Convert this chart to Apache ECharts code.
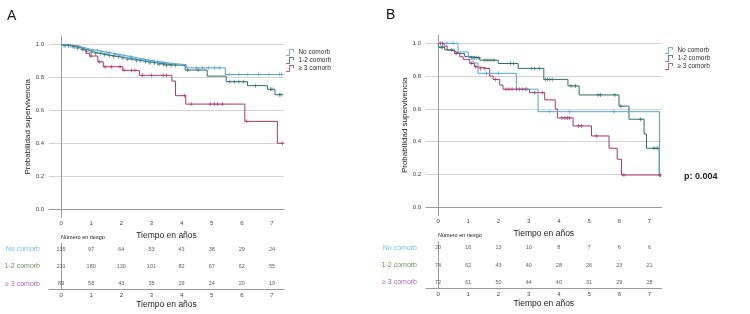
<!DOCTYPE html>
<html>
<head>
<meta charset="utf-8">
<script src="https://cdn.jsdelivr.net/npm/echarts@6/dist/echarts.min.js"></script>
<style>
  html, body { margin: 0; padding: 0; background: #fff; }
  #chart { width: 750px; height: 314px; }
</style>
</head>
<body>
<div id="chart"></div>
<script>
// groups
var groupNames = ["No comorb", "1-2 comorb", "≥ 3 comorb"];
var groupColors = ["#4ea6d2", "#2f6e68", "#a8376e"];
var rowLabelColors = ["#55b3d4", "#4d7a45", "#9b3f96"];
var years = [0, 1, 2, 3, 4, 5, 6, 7];

// Panel A: KM steps [time, survival]
var stepsA_no = [[0, 1], [0.12, 0.993], [0.4, 0.985], [0.62, 0.978], [0.85, 0.97], [1.02, 0.963], [1.25, 0.956], [1.45, 0.948], [1.7, 0.94], [1.95, 0.932], [2.15, 0.924], [2.4, 0.916], [2.6, 0.908], [2.85, 0.9], [3.1, 0.892], [3.4, 0.885], [3.65, 0.878], [4.16, 0.858], [5.45, 0.818]];
var stepsA_12 = [[0, 1], [0.05, 0.993], [0.3, 0.986], [0.5, 0.978], [0.7, 0.97], [0.85, 0.96], [1.0, 0.952], [1.15, 0.945], [1.35, 0.938], [1.55, 0.932], [1.75, 0.926], [1.95, 0.918], [2.2, 0.91], [2.45, 0.902], [2.7, 0.895], [2.95, 0.888], [3.2, 0.88], [3.5, 0.873], [4.12, 0.845], [4.85, 0.808], [5.48, 0.774], [6.19, 0.75], [6.85, 0.728], [7.1, 0.695]];
var stepsA_3 = [[0, 1], [0.15, 0.99], [0.6, 0.98], [0.72, 0.967], [0.83, 0.946], [0.95, 0.93], [1.22, 0.895], [1.4, 0.865], [2.05, 0.843], [2.6, 0.813], [3.68, 0.778], [3.8, 0.689], [4.14, 0.638], [6.1, 0.533], [7.18, 0.40]];
var censA_no = [0.15, 0.3, 0.45, 0.6, 0.75, 0.9, 1.05, 1.2, 1.35, 1.5, 1.6, 1.8, 1.95, 2.1, 2.3, 2.45, 2.6, 2.75, 2.9, 3.05, 3.2, 3.35, 3.45, 3.55, 3.7, 4.5, 4.7, 4.9, 5.1, 5.25, 5.6, 5.9, 6.2, 6.55, 6.9, 7.25, 7.32];
var censA_12 = [0.1, 0.25, 0.4, 0.55, 0.7, 0.85, 1.0, 1.15, 1.3, 1.45, 1.6, 1.75, 1.9, 2.05, 2.2, 2.35, 2.5, 2.65, 2.8, 2.95, 3.1, 3.25, 3.4, 3.5, 3.65, 3.8, 4.2, 4.55, 5.6, 5.75, 5.9, 6.05, 6.45, 6.95, 7.0, 7.25, 7.3];
var censA_3 = [0.99, 1.28, 1.46, 1.68, 1.96, 2.09, 2.34, 2.45, 2.7, 3.0, 3.39, 3.5, 4.1, 4.32, 4.95, 5.09, 5.2, 5.35, 6.16, 7.35];
var endA = 7.37;

// Panel B
var stepsB_no = [[0, 1], [0.66, 0.947], [1.0, 0.915], [1.16, 0.88], [1.32, 0.817], [2.59, 0.72], [3.31, 0.583], [7.33, 0.19]];
var stepsB_12 = [[0, 1], [0.03, 0.976], [0.22, 0.96], [0.55, 0.937], [0.88, 0.92], [1.05, 0.912], [1.38, 0.897], [1.99, 0.877], [2.65, 0.847], [3.5, 0.78], [4.3, 0.74], [4.67, 0.685], [5.99, 0.617], [6.32, 0.537], [6.82, 0.447], [6.9, 0.36], [7.32, 0.19]];
var stepsB_3 = [[0, 1], [0.2, 0.983], [0.3, 0.959], [0.45, 0.95], [0.55, 0.939], [0.72, 0.918], [0.83, 0.902], [1.05, 0.878], [1.21, 0.857], [1.32, 0.845], [1.71, 0.8], [1.82, 0.78], [2.04, 0.745], [2.15, 0.72], [3.03, 0.699], [3.53, 0.655], [3.88, 0.6], [3.95, 0.545], [4.47, 0.496], [5.08, 0.435], [5.66, 0.36], [5.93, 0.293], [6.07, 0.197]];
var censB_no = [0.3, 0.5, 1.6, 2.0, 2.95, 3.68, 4.34, 5.82];
var censB_12 = [0.1, 0.15, 0.45, 1.1, 1.2, 1.28, 1.35, 1.55, 1.65, 1.75, 1.85, 2.4, 2.5, 3.1, 3.2, 3.35, 3.55, 3.62, 3.7, 3.78, 4.4, 4.55, 5.3, 5.38, 5.85, 6.05, 6.7, 7.15, 7.25];
var censB_3 = [0.08, 0.15, 0.6, 1.1, 1.25, 1.4, 1.55, 1.9, 2.25, 2.35, 2.45, 2.6, 2.7, 2.8, 2.9, 3.2, 3.45, 4.1, 4.2, 4.28, 4.35, 4.65, 4.75, 5.25, 6.15, 7.35];
var endB = 7.37;

// numbers at risk
var riskA_no = [135, 97, 64, 53, 43, 38, 29, 24];
var riskA_12 = [231, 180, 130, 101, 82, 67, 62, 55];
var riskA_3 = [89, 58, 43, 35, 29, 24, 20, 19];
var riskB_no = [20, 16, 13, 10, 8, 7, 6, 6];
var riskB_12 = [74, 62, 43, 40, 28, 26, 23, 21];
var riskB_3 = [72, 61, 50, 44, 40, 31, 29, 28];

var FONT = "Liberation Sans, Arial, sans-serif";
var censorSymbol = "path://M2,0h1v5h-1z M0,2h5v1h-5z";
var legendIcon = "path://M0,9h4v-8h6v4h-1v-3h-4v8h-5z";

function sAt(steps, t) {
  var s = steps[0][1];
  for (var i = 0; i < steps.length; i++) {
    if (steps[i][0] <= t) s = steps[i][1];
  }
  return s;
}

function xAxisBase(gridIndex, labelMargin, nameGap) {
  return {
    gridIndex: gridIndex,
    type: "value",
    min: -0.4,
    max: 7.4,
    interval: 0.2,
    name: "Tiempo en años",
    nameLocation: "middle",
    nameGap: nameGap,
    nameTextStyle: { fontSize: 8.5, color: "#222", fontFamily: FONT },
    axisLine: { lineStyle: { color: "#9a9a9a", width: 1 } },
    axisTick: { show: false },
    splitLine: { show: false },
    axisLabel: {
      margin: labelMargin,
      fontSize: 6,
      color: "#444",
      fontFamily: FONT,
      formatter: function (v) {
        var r = Math.round(v);
        return Math.abs(v - r) < 1e-6 && r >= 0 ? String(r) : "";
      }
    }
  };
}

function yAxisCurve(gridIndex) {
  return {
    gridIndex: gridIndex,
    type: "value",
    min: -0.05,
    max: 1.05,
    interval: 0.05,
    name: "Probabilidad supervivencia",
    nameLocation: "middle",
    nameGap: 16,
    nameTextStyle: { fontSize: 8, color: "#222", fontFamily: FONT },
    axisLine: { show: true, lineStyle: { color: "#9a9a9a", width: 1 } },
    axisTick: { show: false },
    splitLine: {
      show: true,
      showMinLine: true,
      showMaxLine: true,
      lineStyle: { color: ["transparent", "#d4d4d4", "transparent", "transparent"], width: 1 }
    },
    axisLabel: {
      margin: 5,
      fontSize: 6,
      color: "#444",
      fontFamily: FONT,
      formatter: function (v) {
        var k = Math.round(v * 10);
        return Math.abs(v * 10 - k) < 1e-6 && k % 2 === 0 && k >= 0 ? (k / 10).toFixed(1) : "";
      }
    }
  };
}

function yAxisTable(gridIndex) {
  return {
    gridIndex: gridIndex,
    type: "value",
    min: 0.67,
    max: 3.35,
    name: "Número en riesgo",
    nameLocation: "end",
    nameGap: 3,
    nameTextStyle: { fontSize: 5.5, color: "#222", align: "left", fontFamily: FONT },
    axisLine: { show: true, lineStyle: { color: "#9a9a9a", width: 1 } },
    axisTick: { show: false },
    axisLabel: { show: false },
    splitLine: { show: false }
  };
}

var series = [];

function addPanel(idx, stepsList, censList, end) {
  stepsList.forEach(function (steps, g) {
    var last = steps[steps.length - 1][1];
    series.push({
      name: groupNames[g],
      type: "line",
      xAxisIndex: idx,
      yAxisIndex: idx,
      step: "end",
      showSymbol: false,
      symbol: "none",
      color: groupColors[g],
      lineStyle: { width: 1, color: groupColors[g] },
      data: steps.concat([[end, last]]),
      z: 3 - g
    });
    series.push({
      name: groupNames[g] + " censurado",
      type: "scatter",
      xAxisIndex: idx,
      yAxisIndex: idx,
      symbol: censorSymbol,
      symbolSize: [4, 4],
      itemStyle: { color: groupColors[g] },
      data: censList[g].map(function (t) { return [t, sAt(steps, t)]; }),
      z: 4
    });
  });
}

function addTable(idx, risks) {
  var data = [];
  risks.forEach(function (arr, g) {
    arr.forEach(function (n, i) {
      data.push([years[i], 3 - g, n]);
    });
  });
  series.push({
    name: "riesgo" + idx,
    type: "scatter",
    xAxisIndex: idx,
    yAxisIndex: idx,
    symbolSize: 0,
    silent: true,
    label: {
      show: true,
      position: "inside",
      fontSize: 5.5,
      color: "#333",
      fontFamily: FONT,
      formatter: function (p) { return p.value[2]; }
    },
    data: data
  });
  series.push({
    name: "grupos" + idx,
    type: "scatter",
    xAxisIndex: idx,
    yAxisIndex: idx,
    symbolSize: 0,
    silent: true,
    label: {
      show: true,
      position: "left",
      distance: 9,
      fontSize: 7,
      fontFamily: FONT,
      formatter: function (p) { return p.value[2]; }
    },
    data: groupNames.map(function (nm, g) {
      return { value: [-0.4, 3 - g, nm], label: { color: rowLabelColors[g] } };
    })
  });
}

addPanel(0, [stepsA_no, stepsA_12, stepsA_3], [censA_no, censA_12, censA_3], endA);
addPanel(1, [stepsB_no, stepsB_12, stepsB_3], [censB_no, censB_12, censB_3], endB);
addTable(2, [riskA_no, riskA_12, riskA_3]);
addTable(3, [riskB_no, riskB_12, riskB_3]);

function legendFor(left, top) {
  return {
    orient: "vertical",
    left: left,
    top: top,
    padding: 0,
    itemWidth: 9,
    itemHeight: 7,
    itemGap: 1,
    textStyle: { fontSize: 6.5, color: "#333", fontFamily: FONT, padding: [0, 0, 0, -1] },
    data: groupNames.map(function (nm) { return { name: nm, icon: legendIcon }; })
  };
}

var chart = echarts.init(document.getElementById("chart"), null, { renderer: "canvas" });
chart.setOption({
  animation: false,
  backgroundColor: "#ffffff",
  textStyle: { fontFamily: FONT },
  title: [
    { text: "A", left: 7, top: 9, padding: 0, textStyle: { fontSize: 14, fontWeight: "normal", color: "#111", fontFamily: FONT } },
    { text: "B", left: 386, top: 8, padding: 0, textStyle: { fontSize: 14, fontWeight: "normal", color: "#111", fontFamily: FONT } }
  ],
  legend: [legendFor(286, 49), legendFor(665, 47)],
  grid: [
    { left: 49, right: 466, top: 36.3, bottom: 96.7 },
    { left: 426, right: 88.4, top: 35.1, bottom: 98.5 },
    { left: 49, right: 466, top: 243.3, bottom: 24.7 },
    { left: 426, right: 88.4, top: 241.7, bottom: 25.7 }
  ],
  xAxis: [
    xAxisBase(0, 3, 14),
    xAxisBase(1, 3, 14),
    xAxisBase(2, 3, 11),
    xAxisBase(3, 3, 11)
  ],
  yAxis: [yAxisCurve(0), yAxisCurve(1), yAxisTable(2), yAxisTable(3)],
  graphic: [
    {
      type: "text",
      left: 684,
      top: 172,
      style: { text: "p: 0.004", fontSize: 9, fontWeight: "bold", fill: "#222", fontFamily: FONT }
    }
  ],
  series: series
});
</script>
</body>
</html>
